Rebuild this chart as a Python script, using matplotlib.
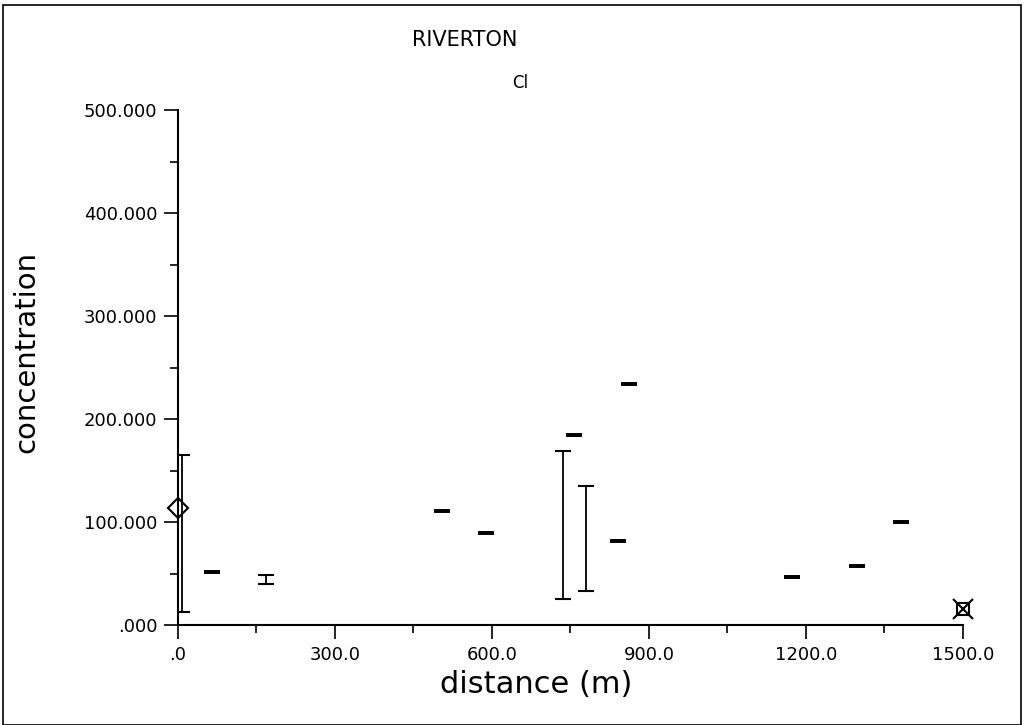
import matplotlib
matplotlib.use("Agg")
import matplotlib.pyplot as plt
import numpy as np
from matplotlib.patches import Rectangle
from matplotlib.ticker import FixedLocator, FuncFormatter

plt.rcParams['font.family'] = ['DejaVu Sans']

# sample ranges (min / max concentration at each distance)
distance = [8, 65, 168, 504, 588, 736, 757, 779, 840, 862, 1174, 1298, 1382]
conc_min = [12.5, 51, 39.5, 110.5, 89.5, 25, 184.5, 33, 82, 234, 46.5, 57.5, 100]
conc_max = [165, 51, 49, 110.5, 89.5, 169, 184.5, 134.5, 82, 234, 46.5, 57.5, 100]

# reference points
start_x, start_y = [0], [114]
end_x, end_y = [1500], [16]

fig = plt.figure(figsize=(10.24, 7.25), dpi=100)
ax = fig.add_axes([0.1738, 0.1379, 0.7666, 0.7103])

# frame around the whole page
fig.patches.append(Rectangle((0.003, 0.0), 0.994, 0.993, transform=fig.transFigure,
                             fill=False, edgecolor='black', linewidth=1.2))

lo = np.array(conc_min)
hi = np.array(conc_max)
mid = (lo + hi) / 2
flat = lo == hi
x = np.array(distance)
ax.errorbar(x[~flat], mid[~flat], yerr=[mid[~flat] - lo[~flat], hi[~flat] - mid[~flat]],
            fmt='none', ecolor='black', elinewidth=1.3, capsize=6, capthick=1.5)
ax.errorbar(x[flat], mid[flat], yerr=0,
            fmt='none', ecolor='black', elinewidth=1.3, capsize=6, capthick=2.6)

ax.plot(start_x, start_y, marker='D', markersize=10, markerfacecolor='none',
        markeredgecolor='black', markeredgewidth=1.5, linestyle='none', clip_on=False)
ax.plot(end_x, end_y, marker='s', markersize=8, markerfacecolor='none',
        markeredgecolor='black', markeredgewidth=1.5, linestyle='none', clip_on=False)
ax.plot(end_x, end_y, marker='x', markersize=14, markeredgecolor='black',
        markeredgewidth=1.5, linestyle='none', clip_on=False)

ax.set_xlim(0, 1500)
ax.set_ylim(0, 500)
for s in ['top', 'right']:
    ax.spines[s].set_visible(False)
for s in ['left', 'bottom']:
    ax.spines[s].set_linewidth(1.5)

ax.xaxis.set_major_locator(FixedLocator([0, 300, 600, 900, 1200, 1500]))
ax.xaxis.set_minor_locator(FixedLocator([150, 450, 750, 1050, 1350]))
ax.yaxis.set_major_locator(FixedLocator([0, 100, 200, 300, 400, 500]))
ax.yaxis.set_minor_locator(FixedLocator([50, 150, 250, 350, 450]))
ax.xaxis.set_major_formatter(FuncFormatter(lambda v, p: '.0' if v == 0 else '%.1f' % v))
ax.yaxis.set_major_formatter(FuncFormatter(lambda v, p: '.000' if v == 0 else '%.3f' % v))
ax.tick_params(which='major', direction='out', length=10, width=1.2, labelsize=13, pad=5)
ax.tick_params(which='minor', direction='out', length=6, width=1.2)

ax.set_xlabel('distance (m)', fontsize=22)
ax.set_ylabel('concentration', fontsize=21)
ax.xaxis.set_label_coords(0.456, -0.088)
ax.yaxis.set_label_coords(-0.175, 0.53)

fig.text(0.454, 0.945, 'RIVERTON', fontsize=15, ha='center', va='center')
fig.text(0.508, 0.886, 'Cl', fontsize=12, ha='center', va='center')

fig.savefig('out.png', dpi=100)
